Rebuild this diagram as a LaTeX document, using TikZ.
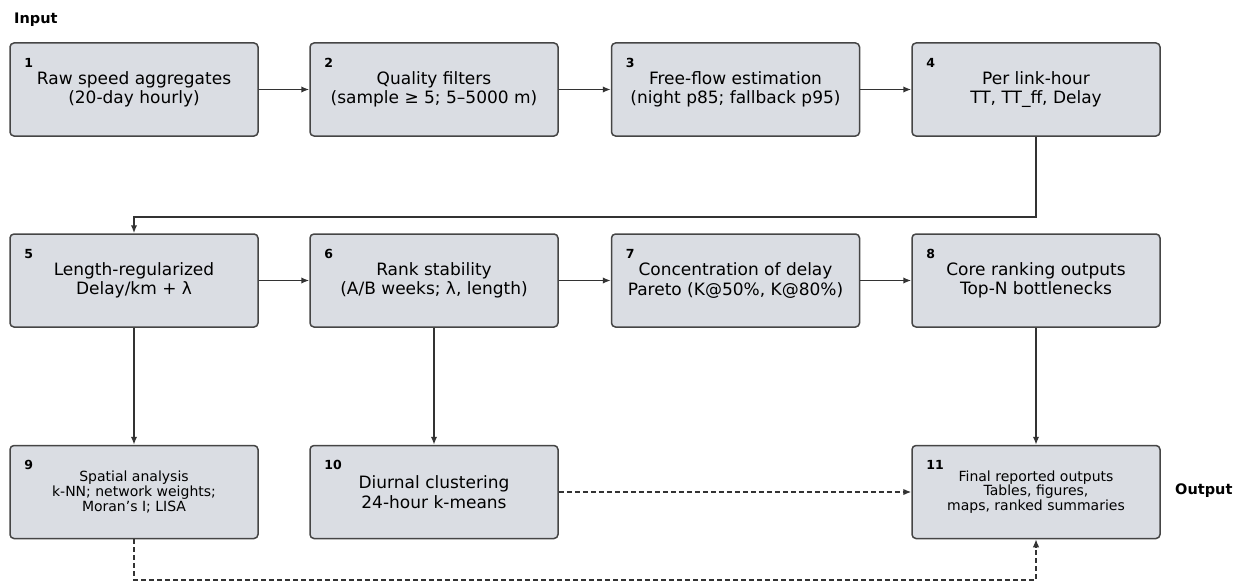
\documentclass[tikz,border=0pt]{standalone}
\usepackage{fontspec}
\setmainfont{DejaVu Sans}
\usepackage{tikz}
\usetikzlibrary{arrows.meta,calc}
\definecolor{stageFill}{HTML}{DADDE3}
\definecolor{stageEdge}{HTML}{454545}
\definecolor{flowInk}{HTML}{333333}

\begin{document}
\begin{tikzpicture}[x=1pt,y=-1pt,>={Latex[length=8pt,width=6.5pt]},
  stage/.style={draw=stageEdge,fill=stageFill,line width=1.5pt,rounded corners=4pt,minimum width=248pt,minimum height=93pt,align=center,inner sep=2pt,font=\fontsize{17}{19.5}\selectfont},
  small/.style={font=\fontsize{14}{14.8}\selectfont},
  num/.style={anchor=west,inner sep=0pt,font=\fontsize{12.5}{14}\selectfont\bfseries},
  side/.style={anchor=west,inner sep=0pt,font=\fontsize{14.5}{16}\selectfont\bfseries},
  flow/.style={->,draw=flowInk,line width=1.7pt},
  dflow/.style={flow,line width=1.4pt,dash pattern=on 5pt off 3pt}
]
  \useasboundingbox (0,0) rectangle (1246,583);

  \node[side] (input) at (14,20) {Input};
  \node[side] (output) at (1175,491) {Output};

  % row 1
  \node[stage] (n1) at (134,89.5) {Raw speed aggregates\\(20-day hourly)};
  \node[stage] (n2) at (434,89.5) {Quality filters\\(sample ≥ 5; 5–5000 m)};
  \node[stage] (n3) at (735.5,89.5) {Free-flow estimation\\(night p85; fallback p95)};
  \node[stage] (n4) at (1036,89.5) {Per link-hour\\TT, TT\_ff, Delay};

  % row 2
  \node[stage] (n5) at (134,280.5) {Length-regularized\\Delay/km + λ};
  \node[stage] (n6) at (434,280.5) {Rank stability\\(A/B weeks; λ, length)};
  \node[stage] (n7) at (735.5,280.5) {Concentration of delay\\Pareto (K@50\%, K@80\%)};
  \node[stage] (n8) at (1036,280.5) {Core ranking outputs\\Top-N bottlenecks};

  % row 3
  \node[stage,small] (n9) at (134,492) {Spatial analysis\\k-NN; network weights;\\Moran’s I; LISA};
  \node[stage] (n10) at (434,492) {Diurnal clustering\\24-hour k-means};
  \node[stage,small] (n11) at (1036,492) {Final reported outputs\\Tables, figures,\\maps, ranked summaries};

  \foreach \k in {1,...,11}
    \node[num] (k\k) at ($(n\k.north west)+(15,20.5)$) {\k};

  \coordinate (turn) at (0,217);
  \coordinate (low) at (0,580);

  \draw[flow] (n1.east) -- (n2.west);
  \draw[flow] (n2.east) -- (n3.west);
  \draw[flow] (n3.east) -- (n4.west);
  \draw[flow] (n4.south) -- (n4.south |- turn) -- (n5.north |- turn) -- (n5.north);
  \draw[flow] (n5.east) -- (n6.west);
  \draw[flow] (n6.east) -- (n7.west);
  \draw[flow] (n7.east) -- (n8.west);
  \draw[flow] (n5.south) -- (n9.north);
  \draw[flow] (n6.south) -- (n10.north);
  \draw[flow] (n8.south) -- (n11.north);

  \draw[dflow] (n10.east) -- (n11.west);
  \draw[dflow] (n9.south) -- (n9.south |- low) -- (n11.south |- low) -- (n11.south);
\end{tikzpicture}
\end{document}
